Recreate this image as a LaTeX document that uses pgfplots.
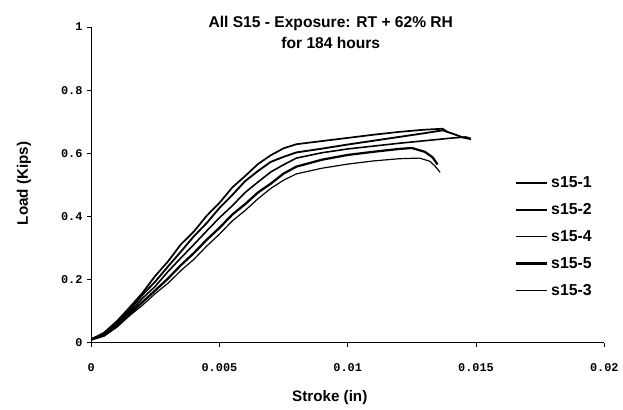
\documentclass[border=0pt]{standalone}
\usepackage{pgfplots}
\pgfplotsset{compat=1.18}
\usepackage{fontspec}
\setmainfont{Liberation Sans}
\setmonofont{Liberation Mono}
\begin{document}
\begin{tikzpicture}
\begin{axis}[
  at={(0,0)}, anchor=south west,
  scale only axis, width=388.5pt, height=239pt,
  xmin=0, xmax=0.02, ymin=0, ymax=1,
  axis x line*=bottom, axis y line*=left,
  axis line style={line width=0.9pt},
  tick align=outside, major tick length=3pt,
  tick style={line width=0.7pt, black},
  xtick={0,0.005,0.01,0.015,0.02},
  xticklabels={0,0.005,0.01,0.015,0.02},
  ytick={0,0.2,0.4,0.6,0.8,1},
  yticklabels={0,0.2,0.4,0.6,0.8,1},
  scaled x ticks=false,
  ticklabel style={font=\ttfamily\bfseries\fontsize{9}{10}\selectfont},
  xticklabel style={yshift=-9.5pt},
  title={\textbf{All S15 - Exposure: RT + 62\% RH}\\\textbf{for 184 hours}},
  title style={font=\bfseries\fontsize{11.8}{16.5}\selectfont, align=center,
    at={(axis description cs:0.467,0.958)}, anchor=center, yshift=0pt},
  xlabel={Stroke (in)},
  ylabel={Load (Kips)},
  label style={font=\bfseries\fontsize{11.5}{13}\selectfont},
  xlabel style={at={(axis description cs:0.465,-0.175)}, anchor=center},
  ylabel style={at={(axis description cs:-0.131,0.505)}, anchor=center},
  legend cell align=left,
  legend style={draw=none, fill=none, at={(axis description cs:0.817,0.545)}, anchor=north west,
    font=\bfseries\fontsize{12}{14}\selectfont, row sep=6.6pt},
  legend image code/.code={\draw[#1] (0pt,0pt) -- (24pt,0pt);},
]
\addplot[black, line width=1.3pt] coordinates {
(0,0.01)(0.0005,0.032)(0.001,0.068)(0.0015,0.112)(0.002,0.158)(0.0025,0.212)(0.003,0.258)(0.0035,0.312)(0.004,0.352)(0.0045,0.402)(0.005,0.443)(0.0055,0.492)(0.006,0.528)(0.0065,0.566)(0.007,0.594)(0.0075,0.616)(0.008,0.629)(0.009,0.639)(0.010,0.649)(0.011,0.659)(0.012,0.668)(0.013,0.675)(0.0137,0.678)(0.0139,0.667)};
\addlegendentry{s15-1}
\addplot[black, line width=1.4pt] coordinates {
(0,0.012)(0.0005,0.028)(0.001,0.066)(0.0015,0.104)(0.002,0.152)(0.0025,0.194)(0.003,0.242)(0.0035,0.289)(0.004,0.337)(0.0045,0.379)(0.005,0.427)(0.0055,0.468)(0.006,0.512)(0.0065,0.544)(0.007,0.573)(0.0075,0.589)(0.008,0.603)(0.009,0.615)(0.010,0.628)(0.011,0.640)(0.012,0.652)(0.013,0.664)(0.0137,0.673)(0.0141,0.662)(0.0145,0.650)(0.0148,0.645)};
\addlegendentry{s15-2}
\addplot[black, line width=1.2pt] coordinates {
(0,0.012)(0.0005,0.026)(0.001,0.061)(0.0015,0.097)(0.002,0.141)(0.0025,0.179)(0.003,0.226)(0.0035,0.269)(0.004,0.311)(0.0045,0.354)(0.005,0.396)(0.0055,0.434)(0.006,0.476)(0.0065,0.509)(0.007,0.541)(0.0075,0.564)(0.008,0.585)(0.009,0.602)(0.010,0.614)(0.011,0.623)(0.012,0.632)(0.013,0.640)(0.014,0.648)(0.0146,0.652)(0.0148,0.647)};
\addlegendentry{s15-4}
\addplot[black, line width=1.7pt] coordinates {
(0,0.01)(0.0005,0.023)(0.001,0.054)(0.0015,0.091)(0.002,0.129)(0.0025,0.166)(0.003,0.204)(0.0035,0.246)(0.004,0.284)(0.0045,0.326)(0.005,0.364)(0.0055,0.406)(0.006,0.439)(0.0065,0.476)(0.007,0.504)(0.0075,0.536)(0.008,0.558)(0.009,0.580)(0.010,0.595)(0.011,0.605)(0.012,0.614)(0.0125,0.617)(0.013,0.605)(0.0133,0.588)(0.0135,0.565)};
\addlegendentry{s15-5}
\addplot[black, line width=0.9pt] coordinates {
(0,0.01)(0.0005,0.021)(0.001,0.049)(0.0015,0.086)(0.002,0.119)(0.0025,0.156)(0.003,0.189)(0.0035,0.229)(0.004,0.264)(0.0045,0.306)(0.005,0.344)(0.0055,0.386)(0.006,0.419)(0.0065,0.456)(0.007,0.489)(0.0075,0.515)(0.008,0.535)(0.009,0.553)(0.010,0.566)(0.011,0.576)(0.012,0.583)(0.0128,0.585)(0.0132,0.575)(0.0134,0.560)(0.0136,0.540)};
\addlegendentry{s15-3}
\end{axis}
\path[use as bounding box] (-69pt,-45.75pt) rectangle (398.25pt,259.5pt);
\end{tikzpicture}
\end{document}
